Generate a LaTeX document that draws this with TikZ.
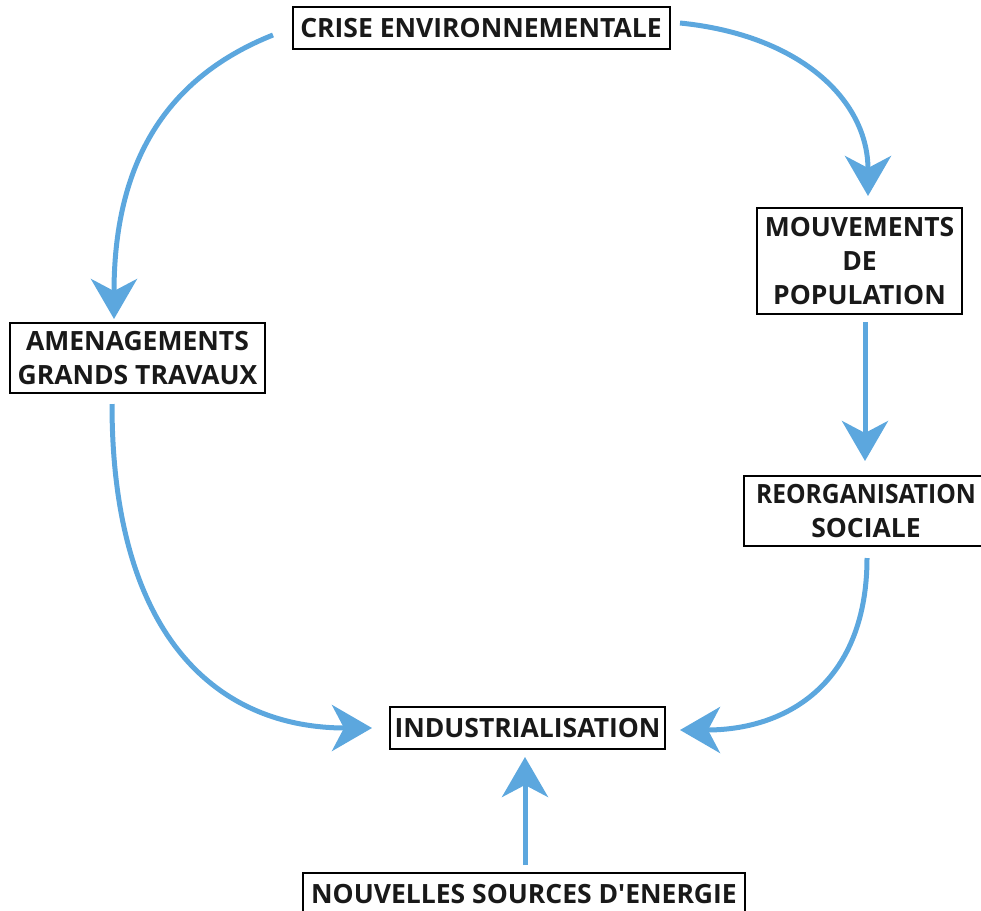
\documentclass[tikz,border=0pt]{standalone}
\usepackage{fontspec}
\setmainfont{Open Sans}[Ligatures=TeXOff]
\usetikzlibrary{arrows.meta}
\definecolor{arrowblue}{RGB}{92,167,222}
\tikzset{
  box/.style={draw=black, line width=2pt, fill=white, inner sep=0pt, align=center,
    font=\fontsize{26.5}{34}\selectfont\bfseries, text=black!90},
  flow/.style={draw=arrowblue, line width=5pt,
    -{Stealth[length=40pt, width=46pt, inset=12pt]}},
}
\begin{document}
\begin{tikzpicture}[x=1pt, y=-1pt]
\useasboundingbox (0,0) rectangle (981,910);
\clip (0,0) rectangle (981,910);
\node[box, minimum width=252pt, minimum height=70pt] (reorg) at (870,511) {};
\node[box, draw=none, fill=none] (reorgtext) at (866,511) {\scalebox{0.93}[1]{REORGANISATION}\\SOCIALE};
\node[box, minimum width=377pt, minimum height=42pt] (crise) at (481,28) {CRISE ENVIRONNEMENTALE};
\node[box, minimum width=205pt, minimum height=106pt] (mouv) at (859.5,261) {MOUVEMENTS\\DE\\POPULATION};
\node[box, minimum width=255pt, minimum height=70pt] (amen) at (137.5,358) {AMENAGEMENTS\\GRANDS TRAVAUX};
\node[box, minimum width=275pt, minimum height=42pt] (indus) at (527.5,728) {INDUSTRIALISATION};
\node[box, minimum width=442pt, minimum height=42pt] (nouv) at (524,894) {NOUVELLES SOURCES D'ENERGIE};

\coordinate (c1) at (273,35);
\coordinate (c2) at (680,23);
\coordinate (c3) at (112,404);
\coordinate (c4) at (867,558);
\coordinate (c5) at (865,322);
\coordinate (c6) at (525,865);
\coordinate (t1) at (114,319);
\coordinate (t2) at (868,196);
\coordinate (t3) at (372,728);
\coordinate (t4) at (680,730);
\coordinate (t5) at (865,461);
\coordinate (t6) at (525,757);

\draw[flow] (c1) .. controls (160,80) and (114,170) .. (t1);
\draw[flow] (c2) .. controls (800,35) and (868,100) .. (t2);
\draw[flow] (c5) -- (t5);
\draw[flow] (c3) .. controls (112,640) and (220,728) .. (t3);
\draw[flow] (c4) .. controls (867,680) and (790,730) .. (t4);
\draw[flow] (c6) -- (t6);
\end{tikzpicture}
\end{document}
